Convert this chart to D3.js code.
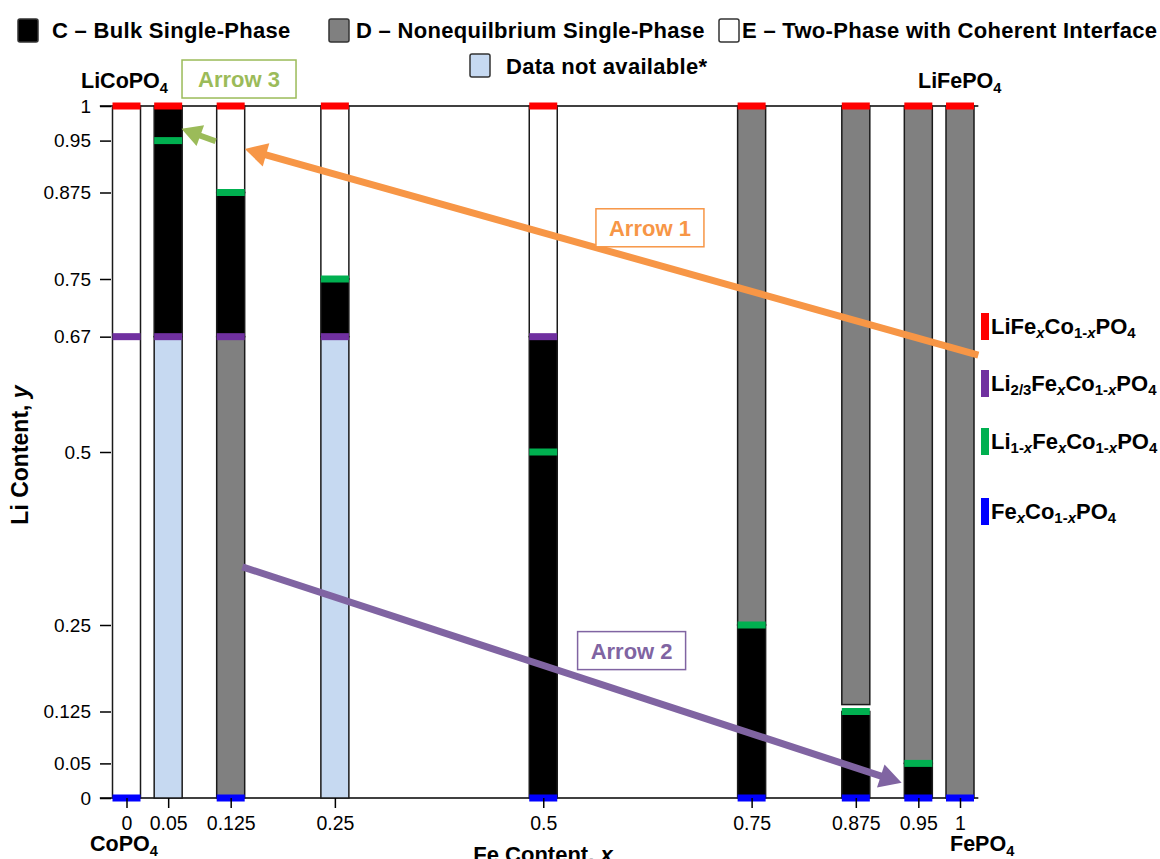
<!DOCTYPE html>
<html>
<head>
<meta charset="utf-8">
<script src="https://cdn.jsdelivr.net/npm/d3@7"></script>
<style>
  body { margin: 0; background: #fff; }
  svg { display: block; font-family: "Liberation Sans", Arial, sans-serif; }
</style>
</head>
<body>
<div id="chart"></div>
<script>
var width = 1160, height = 859;

// Fe content of each composition (x) and axis ticks
var feContent = [0, 0.05, 0.125, 0.25, 0.5, 0.75, 0.875, 0.95, 1];
var xTicks = [0, 0.05, 0.125, 0.25, 0.5, 0.75, 0.875, 0.95, 1];
var yTicks = [0, 0.05, 0.125, 0.25, 0.5, 2/3, 0.75, 0.875, 0.95, 1];
var yTickLabels = ["0", "0.05", "0.125", "0.25", "0.5", "0.67", "0.75", "0.875", "0.95", "1"];

// phase regions: [x, yFrom, yTo]
var bulkSingle = [[0.05, 2/3, 1], [0.125, 2/3, 0.875], [0.25, 2/3, 0.75], [0.5, 0, 2/3],
                  [0.75, 0, 0.25], [0.875, 0, 0.125], [0.95, 0, 0.05]];
var nonEqSingle = [[0.125, 0, 2/3], [0.75, 0.25, 1], [0.875, 0.135, 1], [0.95, 0.05, 1], [1, 0, 1]];
var twoPhase = [[0, 0, 1], [0.125, 0.875, 1], [0.25, 0.75, 1], [0.5, 2/3, 1]];
var noData = [[0.05, 0, 2/3], [0.25, 0, 2/3]];

// composition markers: [x, y]
var markLiFull = [[0, 1], [0.05, 1], [0.125, 1], [0.25, 1], [0.5, 1], [0.75, 1], [0.875, 1], [0.95, 1], [1, 1]];
var markLiTwoThirds = [[0, 2/3], [0.05, 2/3], [0.125, 2/3], [0.25, 2/3], [0.5, 2/3]];
var markLiOneMinusX = [[0.05, 0.95], [0.125, 0.875], [0.25, 0.75], [0.5, 0.5], [0.75, 0.25], [0.875, 0.125], [0.95, 0.05]];
var markLiZero = [[0, 0], [0.125, 0], [0.5, 0], [0.75, 0], [0.875, 0], [0.95, 0], [1, 0]];

// arrows in data units: [x1, y1, x2(tip), y2(tip)], label box centre [x, y]
var arrows = [
  {name: "Arrow 1", color: "#f79646", from: [1.022, 0.64], to: [0.142, 0.938], box: [0.628, 0.824], w: 108, sw: 7, head: 22},
  {name: "Arrow 2", color: "#8064a2", from: [0.139, 0.334], to: [0.93, 0.022], box: [0.606, 0.213], w: 108, sw: 7, head: 22},
  {name: "Arrow 3", color: "#9bbb59", from: [0.107, 0.949], to: [0.066, 0.967], box: [0.135, 1.039], w: 114, sw: 6, head: 20}
];

var colors = {C: "#000000", D: "#808080", E: "#ffffff", NA: "#c6d9f1",
  red: "#ff0000", purple: "#7030a0", green: "#00b050", blue: "#0000ff"};

var svg = d3.select("#chart").append("svg")
  .attr("width", width)
  .attr("height", height);

var x = d3.scaleLinear().domain([0, 1]).range([126.5, 960]);
var y = d3.scaleLinear().domain([0, 1]).range([798, 106]);
var barW = 28, markH = 7;

// writes text made of parts, sub parts are lowered and smaller
function rich(sel, parts, size, shift) {
  var down = false;
  parts.forEach(function(p) {
    var t = sel.append("tspan").text(p.t)
      .attr("font-size", p.sub ? size * 0.68 : size)
      .attr("font-style", p.it ? "italic" : null);
    if (p.sub && !down) { t.attr("dy", shift); down = true; }
    else if (!p.sub && down) { t.attr("dy", -shift); down = false; }
  });
  return sel;
}

// frame lines
svg.append("line").attr("x1", x(-0.032)).attr("x2", x(1.022))
  .attr("y1", y(1)).attr("y2", y(1)).attr("stroke", "#000").attr("stroke-width", 1.5);
svg.append("line").attr("x1", x(-0.032)).attr("x2", x(1.022))
  .attr("y1", y(0)).attr("y2", y(0)).attr("stroke", "#000").attr("stroke-width", 1.5);

// phase bars
function drawSegments(data, fill) {
  svg.append("g").selectAll("rect")
    .data(data)
    .enter().append("rect")
      .attr("x", function(d) { return x(d[0]) - barW / 2; })
      .attr("y", function(d) { return y(d[2]); })
      .attr("width", barW)
      .attr("height", function(d) { return y(d[1]) - y(d[2]); })
      .attr("fill", fill)
      .attr("stroke", "#1a1a1a")
      .attr("stroke-width", 1.5);
}
drawSegments(twoPhase, colors.E);
drawSegments(noData, colors.NA);
drawSegments(nonEqSingle, colors.D);
drawSegments(bulkSingle, colors.C);

function drawMarks(data, fill) {
  svg.append("g").selectAll("rect")
    .data(data)
    .enter().append("rect")
      .attr("x", function(d) { return x(d[0]) - barW / 2; })
      .attr("y", function(d) { return y(d[1]) - markH / 2; })
      .attr("width", barW)
      .attr("height", markH)
      .attr("fill", fill);
}
drawMarks(markLiFull, colors.red);
drawMarks(markLiTwoThirds, colors.purple);
drawMarks(markLiOneMinusX, colors.green);
drawMarks(markLiZero, colors.blue);

// axes
var yAxis = d3.axisLeft(y)
  .tickValues(yTicks)
  .tickFormat(function(d, i) { return yTickLabels[i]; })
  .tickSize(11)
  .tickPadding(9);
var gy = svg.append("g")
  .attr("transform", "translate(111,0)")
  .call(yAxis);
gy.select(".domain").remove();
gy.selectAll("line").attr("stroke", "#000").attr("stroke-width", 1.5);
gy.selectAll("text").attr("font-size", 19)
  .attr("font-family", "'Liberation Sans', Arial, sans-serif").attr("fill", "#000");

var xAxis = d3.axisBottom(x)
  .tickValues(xTicks)
  .tickFormat(function(d) { return String(d); })
  .tickSize(10)
  .tickPadding(8);
var gx = svg.append("g")
  .attr("transform", "translate(0," + y(0) + ")")
  .call(xAxis);
gx.select(".domain").remove();
gx.selectAll("line").attr("stroke", "#000").attr("stroke-width", 1.5);
gx.selectAll("text").attr("font-size", 19.5)
  .attr("font-family", "'Liberation Sans', Arial, sans-serif").attr("fill", "#000");

// axis titles
rich(svg.append("text")
  .attr("transform", "translate(28,455) rotate(-90)")
  .attr("text-anchor", "middle")
  .attr("font-weight", "bold"),
  [{t: "Li Content, "}, {t: "y", it: true}], 23, 0);
rich(svg.append("text")
  .attr("x", 543).attr("y", 862)
  .attr("text-anchor", "middle")
  .attr("font-weight", "bold"),
  [{t: "Fe Content, "}, {t: "x", it: true}], 22, 0);

// end member labels
var endLabels = [
  {parts: [{t: "LiCoPO"}, {t: "4", sub: true}], x: 81, y: 88},
  {parts: [{t: "LiFePO"}, {t: "4", sub: true}], x: 918, y: 88},
  {parts: [{t: "CoPO"}, {t: "4", sub: true}], x: 90, y: 851},
  {parts: [{t: "FePO"}, {t: "4", sub: true}], x: 950, y: 851}
];
endLabels.forEach(function(l) {
  rich(svg.append("text").attr("x", l.x).attr("y", l.y).attr("font-weight", "bold"), l.parts, 21.5, 5);
});

// arrows
arrows.forEach(function(a) {
  var x1 = x(a.from[0]), y1 = y(a.from[1]), x2 = x(a.to[0]), y2 = y(a.to[1]);
  var ang = Math.atan2(y2 - y1, x2 - x1);
  var bx = x2 - a.head * Math.cos(ang), by = y2 - a.head * Math.sin(ang);
  var px = Math.sin(ang) * a.head * 0.55, py = -Math.cos(ang) * a.head * 0.55;
  svg.append("line")
    .attr("x1", x1).attr("y1", y1).attr("x2", bx + 2 * Math.cos(ang)).attr("y2", by + 2 * Math.sin(ang))
    .attr("stroke", a.color).attr("stroke-width", a.sw);
  svg.append("path")
    .attr("d", "M" + x2 + "," + y2 + "L" + (bx + px) + "," + (by + py) + "L" + (bx - px) + "," + (by - py) + "Z")
    .attr("fill", a.color);
  var cx = x(a.box[0]), cy = y(a.box[1]);
  svg.append("rect")
    .attr("x", cx - a.w / 2).attr("y", cy - 19)
    .attr("width", a.w).attr("height", 38)
    .attr("fill", "#fff").attr("stroke", a.color).attr("stroke-width", 1.5);
  svg.append("text")
    .attr("x", cx).attr("y", cy + 8)
    .attr("text-anchor", "middle")
    .attr("font-size", 22).attr("font-weight", "bold")
    .attr("fill", a.color)
    .text(a.name);
});

// top legend
var legendNames = ["C – Bulk Single-Phase", "D – Nonequilbrium Single-Phase",
  "E – Two-Phase with Coherent Interface", "Data not available*"];
var legendFills = [colors.C, colors.D, colors.E, colors.NA];
var legendPos = [[18, 19, 52, 38], [329, 19, 356, 38], [719, 19, 742, 38], [470, 54, 506, 74]];
var legend = svg.selectAll(".legend")
  .data(legendNames)
  .enter().append("g")
    .attr("class", "legend");
legend.append("rect")
  .attr("x", function(d, i) { return legendPos[i][0]; })
  .attr("y", function(d, i) { return legendPos[i][1]; })
  .attr("width", 20).attr("height", 23).attr("rx", 2)
  .attr("fill", function(d, i) { return legendFills[i]; })
  .attr("stroke", "#333").attr("stroke-width", 1.5);
legend.append("text")
  .attr("x", function(d, i) { return legendPos[i][2]; })
  .attr("y", function(d, i) { return legendPos[i][3]; })
  .attr("font-size", 22).attr("font-weight", "bold").attr("letter-spacing", "0.3px")
  .text(function(d) { return d; });

// right legend for composition markers
var keyParts = [
  [{t: "LiFe"}, {t: "x", sub: true, it: true}, {t: "Co"}, {t: "1-", sub: true}, {t: "x", sub: true, it: true}, {t: "PO"}, {t: "4", sub: true}],
  [{t: "Li"}, {t: "2/3", sub: true}, {t: "Fe"}, {t: "x", sub: true, it: true}, {t: "Co"}, {t: "1-", sub: true}, {t: "x", sub: true, it: true}, {t: "PO"}, {t: "4", sub: true}],
  [{t: "Li"}, {t: "1-", sub: true}, {t: "x", sub: true, it: true}, {t: "Fe"}, {t: "x", sub: true, it: true}, {t: "Co"}, {t: "1-", sub: true}, {t: "x", sub: true, it: true}, {t: "PO"}, {t: "4", sub: true}],
  [{t: "Fe"}, {t: "x", sub: true, it: true}, {t: "Co"}, {t: "1-", sub: true}, {t: "x", sub: true, it: true}, {t: "PO"}, {t: "4", sub: true}]
];
var keyFills = [colors.red, colors.purple, colors.green, colors.blue];
var keyTop = [313, 370, 428, 498];
keyParts.forEach(function(parts, i) {
  svg.append("rect")
    .attr("x", 981).attr("y", keyTop[i])
    .attr("width", 8).attr("height", 27)
    .attr("fill", keyFills[i]);
  rich(svg.append("text")
    .attr("x", 991).attr("y", keyTop[i] + 21)
    .attr("font-weight", "bold"), parts, 22, 4);
});
</script>
</body>
</html>
